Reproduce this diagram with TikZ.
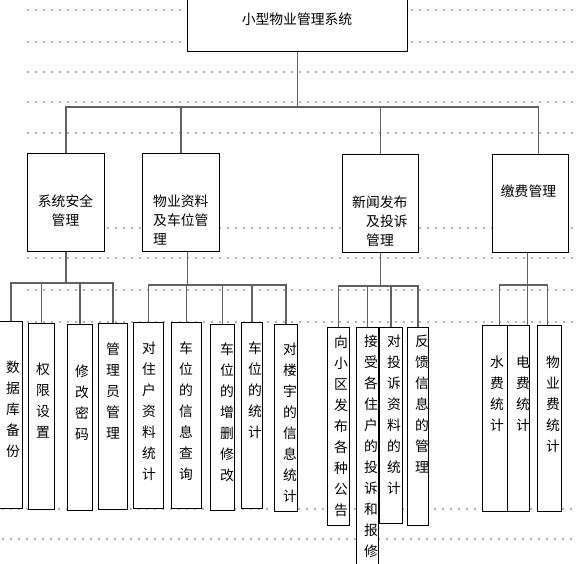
\documentclass[tikz,border=0pt]{standalone}
\usepackage{fontspec}
\setmainfont{Noto Sans CJK SC}
\usetikzlibrary{calc}

\begin{document}
\begin{tikzpicture}[
  x=1pt,y=-1pt,
  grid/.style={gray!60,line width=1.6pt,dash pattern=on 1.6pt off 6.4pt},
  box/.style 2 args={draw,fill=white,line width=0.9pt,inner sep=0pt,anchor=north west,minimum width=#1pt,minimum height=#2pt},
  txt/.style={inner sep=0pt,font=\fontsize{13.8}{18.8}\selectfont},
  vtxt/.style={inner sep=0pt,anchor=north,align=center,font=\fontsize{13.8}{21}\selectfont},
  link/.style={draw=black!62,line width=1.6pt}
]
\useasboundingbox (0,0) rectangle (578,563);
\clip (0,0) rectangle (578,563);

% gridlines of the page
\foreach \y in {10,42,72,102,133,228,258,290,322}
  \draw[grid] (27,\y) -- (578,\y);
\foreach \y in {509,539}
  \draw[grid] (2,\y) -- (578,\y);

% root
\node[box={220}{53}] (root) at (187,-2) {};
\node[txt] (roottxt) at (297,19) {小型物业管理系统};

% second level
\node[box={77}{98}] (sec) at (27,153) {};
\node[box={77}{98}] (prop) at (142,153) {};
\node[box={76}{98}] (news) at (342,154) {};
\node[box={76}{98}] (fee) at (492,154) {};
\node[txt,align=center] (sectxt) at (65.5,211) {系统安全\\管理};
\node[txt,align=left,anchor=north west] (proptxt) at (153,195) {物业资料\\及车位管\\理};
\node[txt,align=left,anchor=north west] (newstxt) at (352,196) {新闻发布\\\hspace*{14pt}及投诉\\\hspace*{14pt}管理};
\node[txt] (feetxt) at (528.5,191) {缴费管理};

% third level: system security
\node[box={23}{187}] (backup) at (-1,321) {};
\node[box={26}{186}] (rights) at (28,323) {};
\node[box={25}{186}] (passwd) at (67,324) {};
\node[box={29}{186}] (admin) at (98,323) {};
\node[vtxt] (backuptxt) at (13,361) {数\\据\\库\\备\\份};
\node[vtxt] (rightstxt) at (43,363) {权\\限\\设\\置};
\node[vtxt] (passwdtxt) at (82,365) {修\\改\\密\\码};
\node[vtxt] (admintxt) at (113,343) {管\\理\\员\\管\\理};

% third level: property and parking
\node[box={30}{186}] (owner) at (133,322) {};
\node[box={30}{186}] (query) at (171,322) {};
\node[box={24}{186}] (edit) at (210,324) {};
\node[box={21}{186}] (count) at (241,322) {};
\node[box={23}{187}] (bldg) at (274,324) {};
\node[vtxt] (ownertxt) at (149,342) {对\\住\\户\\资\\料\\统\\计};
\node[vtxt] (querytxt) at (186,342) {车\\位\\的\\信\\息\\查\\询};
\node[vtxt] (edittxt) at (227,343) {车\\位\\的\\增\\删\\修\\改};
\node[vtxt] (counttxt) at (255,342) {车\\位\\的\\统\\计};
\node[vtxt] (bldgtxt) at (290,343) {对\\楼\\宇\\的\\信\\息\\统\\计};

% third level: news and complaints
\node[box={22}{198}] (notice) at (327,327) {};
\node[box={22}{250}] (accept) at (356,327) {};
\node[box={23}{196}] (stat) at (379,327) {};
\node[box={21}{198}] (reply) at (407,327) {};
\node[vtxt] (noticetxt) at (341,336) {向\\小\\区\\发\\布\\各\\种\\公\\告};
\node[vtxt] (accepttxt) at (371,335) {接\\受\\各\\住\\户\\的\\投\\诉\\和\\报\\修};
\node[vtxt] (stattxt) at (394,335) {对\\投\\诉\\资\\料\\的\\统\\计};
\node[vtxt] (replytxt) at (422,335) {反\\馈\\信\\息\\的\\管\\理};

% third level: fees
\node[box={25}{186}] (water) at (482,325) {};
\node[box={22}{186}] (power) at (507,325) {};
\node[box={24}{186}] (mgmt) at (537,325) {};
\node[vtxt] (watertxt) at (497,356) {水\\费\\统\\计};
\node[vtxt] (powertxt) at (523,356) {电\\费\\统\\计};
\node[vtxt] (mgmttxt) at (553,356) {物\\业\\费\\统\\计};

% connectors
\coordinate (bus) at (0,107);
\coordinate (busA) at (0,283);
\coordinate (busB) at (0,285);
\coordinate (busC) at (0,286);
\coordinate (busD) at (0,285);
\coordinate (feetop) at ([xshift=8pt]fee.north);
\coordinate (propdrop) at ([xshift=6.5pt]prop.south);
\coordinate (feedrop) at ([xshift=-3pt]fee.south);
\coordinate (waterin) at ([xshift=4.5pt]water.north);
\coordinate (powerin) at ([xshift=9pt]power.north);
\coordinate (mgmtin) at ([xshift=-2pt]mgmt.north);

\draw[link] (root.south) -- (root.south |- bus);
\draw[link] (sec.north) -- (sec.north |- bus) -| (feetop);
\draw[link] (prop.north) -- (prop.north |- bus);
\draw[link] (news.north) -- (news.north |- bus);

\draw[link] (sec.south) -- (sec.south |- busA);
\draw[link] (backup.north) -- (backup.north |- busA) -| (admin.north);
\draw[link] (rights.north) -- (rights.north |- busA);
\draw[link] (passwd.north) -- (passwd.north |- busA);

\draw[link] (propdrop) -- (propdrop |- busB);
\draw[link] (owner.north) -- (owner.north |- busB) -| (bldg.north);
\draw[link] (query.north) -- (query.north |- busB);
\draw[link] (edit.north) -- (edit.north |- busB);
\draw[link] (count.north) -- (count.north |- busB);

\draw[link] (news.south) -- (news.south |- busC);
\draw[link] (notice.north) -- (notice.north |- busC) -| (reply.north);
\draw[link] (accept.north) -- (accept.north |- busC);
\draw[link] (stat.north) -- (stat.north |- busC);

\draw[link] (feedrop) -- (feedrop |- busD);
\draw[link] (waterin) -- (waterin |- busD) -| (mgmtin);
\draw[link] (powerin) -- (powerin |- busD);
\end{tikzpicture}
\end{document}
